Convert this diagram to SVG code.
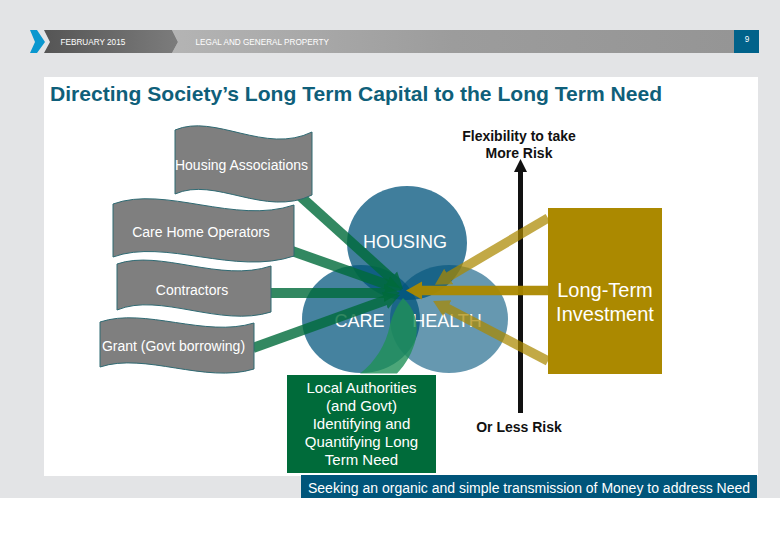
<svg xmlns="http://www.w3.org/2000/svg" width="780" height="540" viewBox="0 0 780 540">
<style>
text{font-family:"Liberation Sans",Arial,sans-serif;fill:#fff}
.hd{font-size:8.200px}
.flag{fill:#7f7f7f;stroke:#2f6a73;stroke-width:1}
.lbl{font-size:14px;text-anchor:middle}
.circ{fill:#00537b}
.ct{font-size:18px;text-anchor:middle}
.blk{font-size:14px;font-weight:bold;fill:#111;text-anchor:middle}
.g{stroke:#006b3a;stroke-width:10;fill:none;marker-end:url(#hg)}
.y{stroke:#ab8900;stroke-width:9.500;fill:none;marker-end:url(#hy)}
.b15{font-size:15px;text-anchor:middle}
</style>
<defs>
<linearGradient id="d1"><stop offset="0" stop-color="#555"/><stop offset="1" stop-color="#7c7c7c"/></linearGradient>
<linearGradient id="d2"><stop offset="0" stop-color="#b4b4b4"/><stop offset=".5" stop-color="#9c9c9c"/><stop offset="1" stop-color="#959595"/></linearGradient>
<marker id="hg" markerUnits="userSpaceOnUse" markerWidth="20" markerHeight="22" refX="2" refY="11" orient="auto"><path d="M0 2L16 11L0 20z" fill="#006b3a"/></marker>
<marker id="hy" markerUnits="userSpaceOnUse" markerWidth="20" markerHeight="22" refX="2" refY="11" orient="auto"><path d="M0 2L16 11L0 20z" fill="#ab8900"/></marker>
<marker id="hk" markerUnits="userSpaceOnUse" markerWidth="14" markerHeight="14" refX="2" refY="7" orient="auto"><path d="M0 0.500L13 7L0 13.500z" fill="#111"/></marker>
</defs>
<rect width="780" height="540" fill="#fff"/>
<rect width="780" height="498" fill="#e3e4e6"/>
<rect x="44" y="77" width="714" height="399" fill="#fff"/>
<g id="header">
<path d="M172 30H734V53H172L178 42z" fill="url(#d2)"/>
<path d="M44 30H172L178 42L172 53H44L50 42z" fill="url(#d1)"/>
<path d="M30 30H37L45 42L37 53H30L35 42z" fill="#0a97cf"/>
<rect x="734" y="30" width="25" height="23" fill="#00628a"/>
<text class="hd" x="60.500" y="45">FEBRUARY 2015</text>
<text class="hd" x="195.500" y="45">LEGAL AND GENERAL PROPERTY</text>
<text class="hd" x="747" y="42" text-anchor="middle">9</text>
</g>
<text x="50" y="101" font-size="21.080" font-weight="bold" style="fill:#0f5f7a">Directing Society’s Long Term Capital to the Long Term Need</text>
<g id="housing"><ellipse class="circ" cx="407" cy="243" rx="60" ry="57" opacity=".75"/><text class="ct" x="405" y="248">HOUSING</text></g>
<g id="care"><ellipse class="circ" cx="361" cy="319" rx="59" ry="54" opacity=".73"/><text class="ct" x="359.500" y="327">CARE</text></g>
<g id="health"><ellipse class="circ" cx="449" cy="319" rx="59" ry="54" opacity=".6"/><text class="ct" x="447" y="327">HEALTH</text></g>
<g id="connectors">
<g opacity=".8"><line class="g" x1="300" y1="196" x2="392.600" y2="279.600"/></g>
<g opacity=".8"><line class="g" x1="292" y1="251" x2="388.800" y2="285.300"/></g>
<g opacity=".8"><line class="g" x1="270" y1="293" x2="386" y2="293"/></g>
<g opacity=".8"><line class="g" x1="253" y1="348" x2="386.800" y2="299.800"/></g>
<path d="M360 373.500C375 362 386 345 390 325C393 313 398 304 403 298C414 308 419 322 416 338C413 352 406 364 397 373.500z" fill="#1f9058" opacity=".8"/>
<line x1="520.500" y1="413" x2="520.500" y2="170" stroke="#111" stroke-width="5" marker-end="url(#hk)"/>
<g opacity=".72"><line class="y" x1="548" y1="218" x2="447" y2="277.600"/></g>
<g opacity=".72"><line class="y" x1="548" y1="361" x2="445.500" y2="307.400"/></g>
<g opacity=".95"><line class="y" x1="548" y1="290.500" x2="420" y2="290.500"/></g>
</g>
<g id="housing-associations"><path class="flag" d="M175 130C215 113 265 155 312 132V195C265 218 215 176 175 194z"/><text class="lbl" x="241.500" y="170">Housing Associations</text></g>
<g id="care-home-operators"><path class="flag" d="M113 204C165 185 235 225 294 205V256C235 276 165 238 113 257z"/><text class="lbl" x="201" y="237">Care Home Operators</text></g>
<g id="contractors"><path class="flag" d="M117 264C160 249 220 283 271 266V312C220 328 160 292 117 310z"/><text class="lbl" x="192" y="295">Contractors</text></g>
<g id="grant"><path class="flag" d="M100 322C145 307 205 338 254 323V369C205 384 145 352 100 367z"/><text class="lbl" x="173.500" y="351">Grant (Govt borrowing)</text></g>
<g id="long-term"><rect x="548" y="208" width="114" height="166" fill="#ab8900"/><text x="605" y="297" font-size="20" text-anchor="middle">Long-Term</text><text x="605" y="321" font-size="20" text-anchor="middle">Investment</text></g>
<g id="local-authorities"><rect x="287" y="375" width="149" height="98" fill="#006b3a"/>
<text class="b15" x="361.500" y="393">Local Authorities</text>
<text class="b15" x="361.500" y="411">(and Govt)</text>
<text class="b15" x="361.500" y="429">Identifying and</text>
<text class="b15" x="361.500" y="447">Quantifying Long</text>
<text class="b15" x="361.500" y="465">Term Need</text></g>
<text class="blk" x="519" y="141">Flexibility to take</text>
<text class="blk" x="519" y="158">More Risk</text>
<text class="blk" x="519" y="432">Or Less Risk</text>
<g id="banner"><rect x="301" y="475" width="456" height="23" fill="#00557a"/><text x="308" y="492.500" font-size="14">Seeking an organic and simple transmission of Money to address Need</text></g>
</svg>
